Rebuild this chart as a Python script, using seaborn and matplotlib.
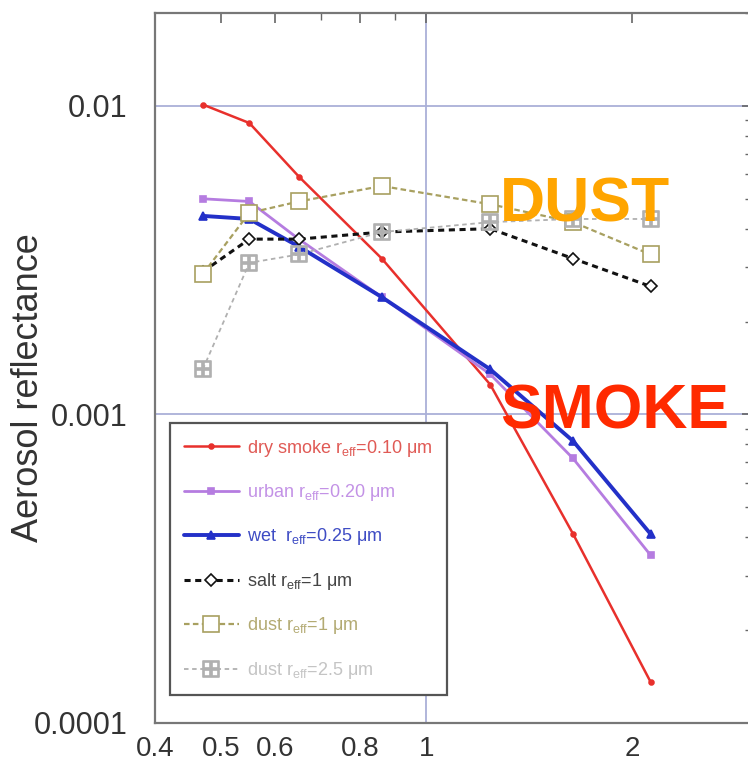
import numpy as np
import pandas as pd
import matplotlib
matplotlib.use("Agg")
import matplotlib.pyplot as plt
import seaborn as sns
from matplotlib.ticker import FixedLocator, FixedFormatter, NullFormatter, LogLocator

# wavelengths (um) and aerosol reflectance per model
wavelength = [0.47, 0.55, 0.65, 0.86, 1.24, 1.64, 2.13]
dry_smoke = [0.0101, 0.0088, 0.0059, 0.0032, 0.00125, 0.00041, 0.000136]
urban = [0.0050, 0.0049, 0.0037, 0.0024, 0.00135, 0.00072, 0.00035]
wet = [0.0044, 0.0043, 0.0035, 0.0024, 0.00140, 0.00082, 0.00041]
salt = [0.0029, 0.0037, 0.0037, 0.0039, 0.0040, 0.0032, 0.0026]
dust_1 = [0.00285, 0.0045, 0.0049, 0.0055, 0.0048, 0.0042, 0.0033]
dust_25 = [0.0014, 0.0031, 0.0033, 0.0039, 0.0042, 0.0043, 0.0043]

labels = [
    r"dry smoke r$_{\mathrm{eff}}$=0.10 μm",
    r"urban r$_{\mathrm{eff}}$=0.20 μm",
    r"wet  r$_{\mathrm{eff}}$=0.25 μm",
    r"salt r$_{\mathrm{eff}}$=1 μm",
    r"dust r$_{\mathrm{eff}}$=1 μm",
    r"dust r$_{\mathrm{eff}}$=2.5 μm",
]
x_ticks = [0.4, 0.5, 0.6, 0.8, 1, 2]
x_minor = [0.7, 0.9, 3]
y_ticks = [0.0001, 0.001, 0.01]
y_ticklabels = ["0.0001", "0.001", "0.01"]
grid_x = [1]
grid_y = [0.01, 0.001]

sns.set_style("white")
plt.rcParams["font.family"] = ["Liberation Sans", "DejaVu Sans"]
plt.rcParams["mathtext.fontset"] = "custom"
plt.rcParams["mathtext.rm"] = "Liberation Sans"

fig = plt.figure(figsize=(7.48, 7.72), dpi=100)
ax = fig.add_axes([155 / 748, 49 / 772, 597 / 748, 710 / 772])

styles = [
    dict(color="#e8302c", marker="o", markersize=3.5, linewidth=1.8, linestyle="-"),
    dict(color="#b57ce0", marker="s", markersize=5, linewidth=2.0, linestyle="-"),
    dict(color="#2330c8", marker="^", markersize=6, linewidth=2.8, linestyle="-"),
    dict(color="#111111", marker="D", markersize=6, linewidth=2.2, linestyle=(0, (2, 1.5)),
         markerfacecolor="white"),
    dict(color="#a8a060", marker="s", markersize=11, linewidth=1.6, linestyle=(0, (2.5, 1.5)),
         markerfacecolor="white"),
    dict(color="#b0b0b0", marker=r"$\boxplus$", markersize=12, linewidth=1.3,
         linestyle=(0, (2.5, 2))),
]
series = [dry_smoke, urban, wet, salt, dust_1, dust_25]
for vals, lab, st in zip(series, labels, styles):
    sns.lineplot(x=wavelength, y=vals, ax=ax, label=lab, markeredgewidth=1.2,
                 markeredgecolor=st["color"], **st)

ax.set_xscale("log")
ax.set_yscale("log")
ax.set_xlim(0.4, 3)
ax.set_ylim(0.0001, 0.02)

for gx in grid_x:
    ax.axvline(gx, color="#aab0d8", lw=1.3, zorder=0)
for gy in grid_y:
    ax.axhline(gy, color="#aab0d8", lw=1.3, zorder=0)

ax.xaxis.set_major_locator(FixedLocator(x_ticks))
ax.xaxis.set_major_formatter(FixedFormatter([str(t) for t in x_ticks]))
ax.xaxis.set_minor_locator(FixedLocator(x_minor))
ax.xaxis.set_minor_formatter(NullFormatter())
ax.yaxis.set_major_locator(FixedLocator(y_ticks))
ax.yaxis.set_major_formatter(FixedFormatter(y_ticklabels))
ax.yaxis.set_minor_locator(LogLocator(base=10, subs=np.arange(2, 10)))
ax.yaxis.set_minor_formatter(NullFormatter())

ax.tick_params(which="both", direction="in", top=True, right=True, color="#666666")
ax.tick_params(which="major", length=7, width=1.2)
ax.tick_params(which="minor", length=5, width=1.0)
ax.tick_params(axis="y", labelsize=22, pad=20, labelcolor="#333333")
ax.tick_params(axis="x", labelsize=20, pad=9, labelcolor="#333333")

for sp in ax.spines.values():
    sp.set_color("#777777")
    sp.set_linewidth(1.6)

ax.set_ylabel("Aerosol reflectance", fontsize=26, color="#333333")
ax.yaxis.set_label_coords(-0.182, 0.472)

leg = ax.legend(loc="lower left", bbox_to_anchor=(0.025, 0.039), borderaxespad=0,
                frameon=True, fancybox=False, framealpha=1, edgecolor="#555555",
                prop={"size": 13},
                handlelength=3.0, labelspacing=1.3, borderpad=0.8, handletextpad=0.45)
leg.get_frame().set_linewidth(1.6)
text_colors = ["#e05a55", "#c392e6", "#3e4cc4", "#444444", "#b3aa72", "#c4c4c4"]
for t, c in zip(leg.get_texts(), text_colors):
    t.set_color(c)

fig.text(585 / 748, 1 - 205 / 772, "DUST", color="#ffa500", fontsize=45,
         fontweight="bold", ha="center", va="center")
fig.text(615 / 748, 1 - 412 / 772, "SMOKE", color="#ff2a00", fontsize=45,
         fontweight="bold", ha="center", va="center")

fig.savefig("out.png", dpi=100)
